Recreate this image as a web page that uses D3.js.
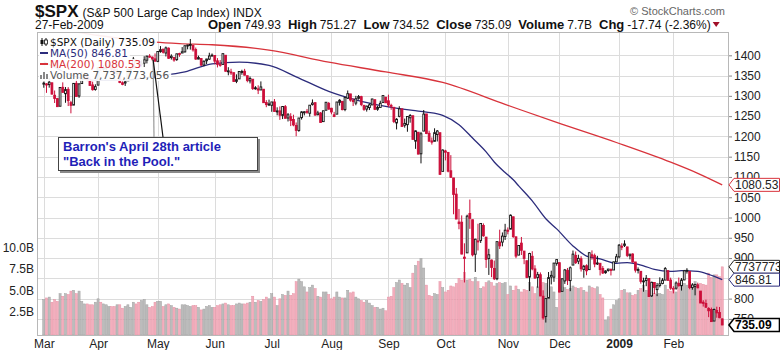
<!DOCTYPE html>
<html>
<head>
<meta charset="utf-8">
<script src="https://cdn.jsdelivr.net/npm/d3@7/dist/d3.min.js"></script>
<style>
  html, body { margin: 0; padding: 0; background: #fff; }
  svg { display: block; font-family: "Liberation Sans", Arial, sans-serif; }
</style>
</head>
<body>
<svg id="chart" width="780" height="350"></svg>
<script>
// Daily bars of $SPX, one array per month: [day, open, high, low, close, volume (billions)]
const mar08 = [
  [3,1330.5,1335.1,1320.0,1331.34,3.9],[4,1329.6,1331.0,1307.4,1326.75,4.1],[5,1327.7,1344.2,1320.2,1333.70,4.2],
  [6,1332.2,1332.2,1303.4,1304.34,3.6],[7,1301.5,1313.2,1282.4,1293.37,3.9],[10,1293.2,1295.0,1272.7,1273.37,3.7],
  [11,1274.4,1320.7,1274.4,1320.65,4.6],[12,1321.1,1333.3,1307.9,1308.77,4.3],[13,1305.3,1321.7,1282.9,1315.48,4.6],
  [14,1316.1,1321.5,1274.9,1288.14,4.5],[17,1283.2,1287.7,1256.9,1276.60,4.9],[18,1277.2,1330.7,1277.2,1330.74,5.0],
  [19,1330.9,1341.5,1298.4,1298.42,4.6],[20,1299.7,1330.7,1295.2,1329.51,4.9],[24,1330.3,1359.7,1330.3,1349.88,3.7],
  [25,1349.1,1357.2,1341.2,1352.99,3.4],[26,1352.5,1352.5,1336.4,1341.13,3.4],[27,1340.3,1345.6,1325.7,1325.76,3.3],
  [28,1327.0,1334.9,1312.9,1315.22,3.3],[31,1315.9,1328.5,1312.8,1322.70,3.6]
];
const apr08 = [
  [1,1326.4,1370.2,1326.4,1370.18,4.0],[2,1369.9,1377.9,1361.6,1367.53,3.6],[3,1365.7,1375.7,1358.7,1369.31,3.4],
  [4,1369.9,1380.9,1362.8,1370.40,3.3],[7,1373.7,1386.7,1369.0,1372.54,3.1],[8,1370.2,1370.2,1360.6,1365.54,3.1],
  [9,1365.5,1368.4,1349.6,1354.49,3.1],[10,1355.0,1367.2,1350.1,1360.55,3.3],[11,1357.7,1357.7,1331.2,1332.83,3.3],
  [14,1332.2,1335.6,1326.2,1328.32,2.9],[15,1331.7,1337.7,1324.4,1334.43,3.1],[16,1337.0,1365.5,1337.0,1364.71,3.3],
  [17,1363.4,1368.6,1357.3,1365.56,3.0],[18,1369.0,1395.9,1369.0,1390.33,3.6],[21,1387.7,1390.2,1379.3,1388.17,3.4],
  [22,1386.4,1386.4,1369.8,1375.94,3.6],[23,1378.4,1387.8,1372.2,1379.93,3.8],[24,1380.5,1397.7,1371.1,1388.82,3.9],
  [25,1387.9,1399.1,1379.9,1397.84,3.3],[28,1397.8,1402.9,1394.4,1396.37,3.0],[29,1395.6,1397.0,1386.7,1390.94,3.1],
  [30,1391.2,1404.6,1384.3,1385.59,3.6]
];
const may08 = [
  [1,1385.1,1410.0,1383.1,1409.34,3.7],[2,1409.2,1422.7,1406.3,1413.90,3.7],[5,1415.3,1415.3,1404.4,1407.49,3.1],
  [6,1405.6,1421.6,1397.1,1418.26,3.3],[7,1417.5,1419.5,1391.2,1392.57,3.4],[8,1394.3,1402.4,1389.4,1397.68,3.2],
  [9,1394.9,1394.9,1384.1,1388.28,3.0],[12,1389.4,1404.1,1386.2,1403.58,2.9],[13,1404.4,1406.3,1396.3,1403.04,2.8],
  [14,1405.6,1420.2,1405.6,1408.66,3.3],[15,1408.4,1424.4,1406.9,1423.57,3.3],[16,1423.9,1425.8,1414.7,1425.35,3.2],
  [19,1425.3,1440.2,1414.0,1426.63,3.1],[20,1424.5,1424.5,1409.1,1413.40,3.2],[21,1414.1,1419.1,1388.8,1390.71,3.2],
  [22,1390.8,1399.1,1390.2,1394.35,3.0],[23,1392.2,1392.2,1373.7,1375.93,2.7],[27,1375.9,1387.4,1373.1,1385.35,2.8],
  [28,1386.5,1391.3,1378.2,1390.84,3.1],[29,1390.5,1406.3,1388.6,1398.26,3.2],[30,1398.4,1404.5,1398.1,1400.38,3.0]
];
const jun08 = [
  [2,1399.6,1399.6,1377.8,1385.67,3.0],[3,1386.4,1393.1,1370.1,1377.65,3.2],[4,1376.3,1388.2,1371.7,1377.20,3.3],
  [5,1377.5,1404.1,1377.5,1404.05,3.4],[6,1400.1,1400.1,1359.9,1360.68,3.5],[9,1360.8,1370.6,1350.7,1361.76,3.3],
  [10,1358.9,1366.8,1351.6,1358.44,3.2],[11,1357.1,1357.1,1335.5,1335.49,3.2],[12,1335.8,1353.0,1331.3,1339.87,3.4],
  [13,1341.8,1360.0,1341.8,1360.03,3.5],[16,1358.4,1364.3,1352.1,1360.14,3.4],[17,1360.7,1366.6,1350.5,1350.93,3.4],
  [18,1349.6,1349.6,1333.4,1337.81,3.5],[19,1336.9,1347.7,1330.6,1342.83,3.6],[20,1341.0,1341.0,1314.5,1317.93,4.3],
  [23,1319.8,1323.8,1315.3,1318.00,3.6],[24,1317.2,1326.0,1304.4,1314.29,3.8],[25,1314.5,1335.6,1314.5,1321.97,3.7],
  [26,1316.3,1316.3,1283.2,1283.15,3.9],[27,1283.6,1289.5,1272.0,1278.38,4.2],[30,1278.1,1290.7,1274.9,1280.00,4.0]
];
const jul08 = [
  [1,1276.7,1285.3,1260.7,1284.91,4.6],[2,1285.0,1292.2,1261.5,1261.52,4.2],[3,1262.9,1271.7,1252.0,1262.90,3.2],
  [7,1262.9,1273.9,1240.7,1252.31,4.0],[8,1251.8,1274.2,1242.8,1273.70,4.5],[9,1273.4,1277.4,1244.6,1244.69,4.4],
  [10,1245.3,1257.7,1236.8,1253.39,4.9],[11,1248.7,1257.2,1225.4,1239.49,4.4],[14,1241.6,1253.5,1225.0,1228.30,4.6],
  [15,1226.8,1234.4,1200.4,1214.91,6.0],[16,1214.7,1245.5,1211.4,1245.36,6.3],[17,1246.3,1262.3,1241.5,1260.32,6.0],
  [18,1258.2,1262.2,1251.8,1260.68,5.4],[21,1261.8,1267.7,1255.7,1260.00,4.8],[22,1257.1,1277.4,1248.8,1277.00,5.3],
  [23,1278.9,1291.2,1276.1,1282.19,5.6],[24,1283.2,1283.2,1251.5,1252.54,5.2],[25,1253.5,1263.2,1251.8,1257.76,4.3],
  [28,1257.8,1260.1,1234.4,1234.37,4.2],[29,1236.4,1263.2,1236.4,1263.20,4.8],[30,1264.5,1284.3,1264.5,1284.26,4.8],
  [31,1281.4,1284.9,1265.7,1267.38,4.5]
];
const aug08 = [
  [1,1269.4,1270.5,1254.5,1260.31,4.0],[4,1253.3,1260.5,1247.5,1249.01,4.2],[5,1254.9,1284.9,1254.7,1284.88,4.8],
  [6,1283.9,1291.7,1276.0,1289.19,4.2],[7,1286.5,1286.5,1264.3,1266.07,4.1],[8,1266.3,1297.9,1262.1,1296.32,4.1],
  [11,1294.4,1313.2,1292.2,1305.32,5.0],[12,1304.8,1304.8,1285.6,1289.59,4.7],[13,1288.6,1294.0,1274.9,1285.83,4.8],
  [14,1282.1,1300.1,1276.8,1292.93,4.2],[15,1293.9,1302.1,1290.7,1298.20,4.0],[18,1298.1,1300.2,1274.5,1278.60,3.8],
  [19,1276.7,1276.7,1263.1,1266.69,3.6],[20,1267.3,1276.0,1261.2,1274.54,3.8],[21,1271.1,1281.5,1265.0,1277.72,3.5],
  [22,1277.6,1293.1,1277.6,1292.20,3.2],[25,1290.5,1290.5,1264.9,1266.84,3.0],[26,1267.0,1275.6,1263.2,1271.51,3.0],
  [27,1271.3,1288.0,1271.3,1281.66,2.8],[28,1283.8,1300.7,1283.8,1300.68,2.9],[29,1296.5,1297.6,1282.7,1282.83,2.6]
];
const sep08 = [
  [2,1287.8,1303.0,1272.2,1277.58,4.2],[3,1276.6,1280.6,1265.6,1274.98,4.3],[4,1271.8,1271.8,1232.8,1236.83,5.3],
  [5,1233.2,1244.9,1217.2,1242.31,5.9],[8,1249.5,1274.4,1247.1,1267.79,6.2],[9,1267.9,1268.7,1224.5,1224.51,5.8],
  [10,1227.5,1243.9,1221.6,1232.04,5.6],[11,1229.0,1250.0,1211.5,1249.05,5.8],[12,1245.9,1255.1,1233.8,1251.70,5.3],
  [15,1250.9,1250.9,1192.7,1192.70,7.0],[16,1188.3,1214.8,1169.3,1213.60,7.9],[17,1210.3,1210.3,1155.9,1156.39,8.4],
  [18,1157.1,1211.1,1133.5,1206.51,8.7],[19,1213.1,1265.1,1213.1,1255.08,7.6],[22,1255.4,1255.4,1205.6,1207.09,5.6],
  [23,1207.6,1214.0,1187.8,1188.22,4.4],[24,1188.8,1197.4,1179.8,1185.87,4.3],[25,1187.9,1220.0,1187.9,1209.18,4.6],
  [26,1204.5,1215.8,1187.5,1213.27,4.5],[29,1209.1,1209.1,1106.4,1106.42,6.0],[30,1113.8,1168.0,1113.8,1166.36,5.3]
];
const oct08 = [
  [1,1164.2,1167.0,1140.8,1161.06,4.8],[2,1160.6,1160.6,1111.4,1114.28,5.0],[3,1115.2,1153.8,1098.1,1099.23,5.5],
  [6,1097.6,1097.6,1008.0,1056.89,5.4],[7,1057.6,1072.9,996.2,996.23,5.8],[8,988.9,1021.1,971.0,984.94,6.4],
  [9,988.4,1005.3,909.2,909.92,6.2],[10,902.3,936.4,839.8,899.22,7.1],[13,912.8,1006.9,912.8,1003.35,6.2],
  [14,1010.0,1044.3,972.1,998.01,6.3],[15,994.6,994.6,904.0,907.84,6.0],[16,909.5,947.7,865.8,946.43,6.5],
  [17,942.3,984.6,918.7,940.55,6.0],[20,943.5,985.4,937.3,985.40,5.2],[21,980.4,985.4,952.5,955.05,5.4],
  [22,951.7,951.7,875.8,896.78,5.9],[23,899.1,922.8,858.4,908.11,6.1],[24,895.2,896.3,852.9,876.77,5.9],
  [27,874.3,893.8,845.8,848.92,5.5],[28,848.9,940.5,845.3,940.51,5.8],[29,939.5,970.0,922.3,930.09,5.9],
  [30,939.4,963.2,928.9,954.09,5.8],[31,953.1,984.4,944.6,968.75,5.9]
];
const nov08 = [
  [3,968.7,975.5,958.6,966.30,4.5],[4,971.3,1007.5,971.3,1005.75,5.5],[5,1001.8,1001.8,949.9,952.77,5.0],
  [6,952.4,952.4,899.7,904.88,5.5],[7,907.4,931.5,906.9,930.99,5.1],[10,936.8,952.0,907.5,919.21,4.8],
  [11,917.2,917.2,884.9,898.95,5.1],[12,893.4,893.4,850.5,852.30,5.0],[13,853.1,913.0,818.7,911.29,5.9],
  [14,904.4,916.9,869.9,873.29,5.4],[17,873.2,882.3,849.0,850.75,4.6],[18,852.3,865.9,826.8,859.12,5.4],
  [19,859.0,864.6,806.2,806.58,5.6],[20,805.9,820.5,747.8,752.44,5.9],[21,755.8,801.2,741.0,800.03,5.8],
  [24,801.2,865.6,801.2,851.81,5.6],[25,853.4,868.9,835.0,857.39,5.4],[26,852.9,887.7,841.4,887.68,4.8],
  [28,886.9,896.3,881.2,896.24,3.0]
];
const dec08 = [
  [1,888.6,888.6,815.7,816.21,5.0],[2,817.9,850.5,817.9,848.81,5.4],[3,843.6,873.1,836.3,870.74,5.3],
  [4,869.8,875.6,833.6,845.22,5.1],[5,844.4,879.4,818.4,876.07,5.2],[8,882.7,918.6,882.7,909.70,5.5],
  [9,906.5,916.3,885.4,888.67,5.3],[10,892.2,908.3,885.0,899.24,5.2],[11,898.4,904.6,866.8,873.59,5.3],
  [12,871.8,883.2,851.4,879.73,5.0],[15,881.1,884.6,857.7,868.57,4.8],[16,871.5,914.7,871.5,913.18,5.5],
  [17,908.2,918.9,895.9,904.42,5.3],[18,906.0,911.0,877.4,885.28,5.2],[19,887.0,905.5,883.0,887.88,5.4],
  [22,887.2,887.4,857.1,871.63,4.5],[23,874.3,880.4,860.7,863.16,4.1],[24,863.9,869.8,861.4,868.15,1.5],
  [26,869.5,873.7,866.5,872.80,1.9],[29,872.4,873.7,857.1,869.42,2.8],[30,870.6,891.1,870.6,890.64,3.3],
  [31,890.6,910.3,889.4,903.25,3.8]
];
const jan09 = [
  [2,903.0,934.7,899.4,931.80,4.0],[5,929.2,936.6,919.5,927.45,5.0],[6,931.2,943.9,927.3,934.70,5.1],
  [7,927.5,927.5,902.4,906.65,4.7],[8,905.7,910.0,896.8,909.73,4.7],[9,909.9,911.9,888.3,890.35,4.4],
  [12,890.4,890.4,864.3,870.26,4.5],[13,869.8,877.0,862.0,871.79,5.0],[14,867.3,867.3,836.9,842.62,5.2],
  [15,842.0,851.6,817.0,843.74,5.6],[16,844.5,858.1,830.7,850.12,5.0],[20,849.6,849.6,804.5,805.22,4.6],
  [21,806.8,841.7,804.3,840.24,4.4],[22,839.7,839.7,811.3,827.50,4.6],[23,822.2,838.6,806.1,831.95,4.5],
  [26,832.5,852.5,827.7,836.57,4.6],[27,837.3,850.5,835.4,845.71,4.5],[28,845.7,877.9,845.7,874.09,5.6],
  [29,868.9,868.9,844.2,845.14,5.1],[30,845.7,851.7,821.7,825.88,4.9]
];
const feb09 = [
  [2,823.1,830.8,812.9,825.44,5.0],[3,825.7,842.6,822.0,838.51,4.8],[4,837.8,851.9,829.2,832.23,5.8],
  [5,831.8,850.6,819.9,845.85,5.9],[6,846.1,870.8,845.4,868.60,5.8],[9,868.2,875.0,861.7,869.89,5.6],
  [10,866.9,868.1,823.0,827.16,6.0],[11,827.4,838.2,822.0,833.74,5.4],[12,829.9,835.5,808.1,835.19,6.0],
  [13,834.0,839.4,825.2,826.84,5.3],[17,818.6,818.6,789.2,789.17,5.8],[18,791.1,796.2,780.4,788.42,5.7],
  [19,787.9,797.6,777.0,778.94,5.6],[20,775.9,778.7,754.3,770.05,7.0],[23,773.3,777.9,742.4,743.33,6.5],
  [24,744.7,775.5,744.7,773.14,6.8],[25,770.6,780.1,752.9,764.90,6.8],[26,765.8,779.4,751.8,752.83,6.6],
  [27,749.93,751.27,734.52,735.09,7.737773056]
];
const monthKeys = ["2008-03","2008-04","2008-05","2008-06","2008-07","2008-08","2008-09","2008-10","2008-11","2008-12","2009-01","2009-02"];
const monthRows = [mar08, apr08, may08, jun08, jul08, aug08, sep08, oct08, nov08, dec08, jan09, feb09];
const tickLabels = ["Mar","Apr","May","Jun","Jul","Aug","Sep","Oct","Nov","Dec","2009","Feb"];
const prevClose = 1330.63; // close of 29-Feb-2008

// Moving averages: [date, value]
const ma50 = [
  ["2008-03-03",1384],["2008-03-07",1371],["2008-03-14",1354],["2008-03-31",1338],["2008-04-15",1339],
  ["2008-04-30",1348],["2008-05-15",1359],["2008-05-30",1379],["2008-06-13",1383],["2008-06-30",1375],
  ["2008-07-15",1347],["2008-07-31",1311],["2008-08-14",1290],["2008-08-29",1274],["2008-09-15",1264],
  ["2008-09-22",1260],["2008-09-30",1252],["2008-10-08",1229],["2008-10-15",1196],["2008-10-22",1162],
  ["2008-10-27",1137],["2008-10-31",1111],["2008-11-05",1093],["2008-11-07",1078],["2008-11-14",1041],
  ["2008-11-21",997],["2008-11-28",972],["2008-12-08",930],["2008-12-15",905],["2008-12-22",898],
  ["2008-12-31",887],["2009-01-07",889],["2009-01-15",881],["2009-01-22",872],["2009-01-30",867],
  ["2009-02-05",869],["2009-02-13",867],["2009-02-20",860],["2009-02-27",846.81]
];
const ma200 = [
  ["2008-03-03",1470],["2008-03-31",1450],["2008-04-30",1432.5],["2008-05-13",1429],["2008-05-30",1426],
  ["2008-06-30",1413],["2008-07-31",1383],["2008-08-29",1359],["2008-09-30",1333],["2008-10-31",1279],
  ["2008-11-28",1234.5],["2008-12-31",1185],["2009-01-30",1136.5],["2009-02-13",1109],["2009-02-27",1080.53]
];

const priceTicks = [750,800,850,900,950,1000,1050,1100,1150,1200,1250,1300,1350,1400];
const volumeTicks = [2.5,5,7.5,10];

// ---------------------------------------------------------------------------
const plot = { left: 37, right: 729, top: 32, bottom: 335 };
const RED = "#cc0f3a", BLACK = "#111", NAVY = "#2c2c7c", MA_RED = "#d8333b";

const bars = [];
monthRows.forEach((rows, m) => rows.forEach(r => bars.push({
  date: monthKeys[m] + "-" + String(r[0]).padStart(2, "0"),
  open: r[1], high: r[2], low: r[3], close: r[4], volume: r[5]
})));
bars.forEach((b, i) => {
  const pc = i ? bars[i - 1].close : prevClose;
  b.down = b.close < pc;
  b.hollow = b.close >= b.open;
});
const last = bars[bars.length - 1];
const lastPrev = bars[bars.length - 2].close;

const x = d3.scalePoint().domain(bars.map(d => d.date)).range([plot.left, plot.right]).padding(2.5);
const step = x.step();
const y = d3.scaleLinear().domain([750, 1400]).range([318.9, 55.3]);
const yVol = d3.scaleLinear().domain([0, 10]).range([333, 247.5]);

const svg = d3.select("#chart");
svg.append("defs").append("clipPath").attr("id", "plotClip")
  .append("rect").attr("x", plot.left).attr("y", plot.top)
  .attr("width", plot.right - plot.left).attr("height", plot.bottom - plot.top);

// grid
const monthStarts = monthKeys.map(k => bars.find(b => b.date.startsWith(k)).date);
const grid = svg.append("g").attr("shape-rendering", "crispEdges").attr("stroke", "#dcdcdc");
grid.selectAll("line.h").data(priceTicks).join("line").attr("class", "h")
  .attr("x1", plot.left).attr("x2", plot.right)
  .attr("y1", d => Math.round(y(d)) + 0.5).attr("y2", d => Math.round(y(d)) + 0.5);
grid.selectAll("line.v").data(monthStarts).join("line").attr("class", "v")
  .attr("x1", d => Math.round(x(d)) + 0.5).attr("x2", d => Math.round(x(d)) + 0.5)
  .attr("y1", plot.top).attr("y2", plot.bottom);

// volume
const body = svg.append("g").attr("clip-path", "url(#plotClip)");
body.append("g").selectAll("rect").data(bars).join("rect")
  .attr("x", d => x(d.date) - step / 2 + 0.3)
  .attr("width", step - 0.6)
  .attr("y", d => yVol(d.volume))
  .attr("height", d => plot.bottom - yVol(d.volume))
  .attr("fill", d => d.down ? "#f3a6b6" : "#b5b5b5")
  .attr("stroke", d => d.down ? "#e38a9e" : "#9a9a9a")
  .attr("stroke-width", 0.5)
  .attr("opacity", 0.9);

// moving averages
const maLine = d3.line().x(d => x(d[0])).y(d => y(d[1])).curve(d3.curveMonotoneX);
body.append("path").datum(ma200).attr("d", maLine).attr("fill", "none")
  .attr("stroke", MA_RED).attr("stroke-width", 1.3);
body.append("path").datum(ma50).attr("d", maLine).attr("fill", "none")
  .attr("stroke", NAVY).attr("stroke-width", 1.3);

// candles
const bw = 1.8;
const candles = body.append("g").selectAll("g").data(bars).join("g");
candles.append("line")
  .attr("x1", d => x(d.date)).attr("x2", d => x(d.date))
  .attr("y1", d => y(d.high)).attr("y2", d => y(d.low))
  .attr("stroke", d => d.down ? RED : BLACK).attr("stroke-width", 1);
candles.append("rect")
  .attr("x", d => x(d.date) - bw / 2).attr("width", bw)
  .attr("y", d => y(Math.max(d.open, d.close)))
  .attr("height", d => Math.max(1, Math.abs(y(d.open) - y(d.close))))
  .attr("fill", d => d.hollow ? "#fff" : (d.down ? RED : BLACK))
  .attr("stroke", d => d.down ? RED : BLACK).attr("stroke-width", 0.9);

// frame
svg.append("rect").attr("x", plot.left + 0.5).attr("y", plot.top + 0.5)
  .attr("width", plot.right - plot.left - 1).attr("height", plot.bottom - plot.top)
  .attr("fill", "none").attr("stroke", "#b8b8b8").attr("shape-rendering", "crispEdges");

// axes
const styleAxis = g => {
  g.select(".domain").remove();
  g.selectAll(".tick line").attr("stroke", "#888");
  g.selectAll("text").attr("font-family", "Liberation Sans, Arial, sans-serif").attr("font-size", 12).attr("fill", "#222");
};
svg.append("g").attr("transform", `translate(${plot.right},0)`)
  .call(d3.axisRight(y).tickValues(priceTicks).tickSize(3).tickPadding(2).tickFormat(d3.format("d")))
  .call(styleAxis);
svg.append("g").attr("transform", `translate(${plot.left},0)`)
  .call(d3.axisLeft(yVol).tickValues(volumeTicks).tickSize(0).tickPadding(3).tickFormat(d => d3.format(".1f")(d) + "B"))
  .call(styleAxis);
const xAxis = svg.append("g").attr("transform", `translate(0,${plot.bottom})`)
  .call(d3.axisBottom(x).tickValues(monthStarts).tickSize(0).tickPadding(4).tickFormat((d, i) => tickLabels[i]))
  .call(styleAxis);
xAxis.selectAll("text").filter((d, i) => tickLabels[i] === "2009").attr("font-weight", "bold");

// legend
const legend = svg.append("g").attr("font-family", "DejaVu Sans, Verdana, sans-serif").attr("font-size", 10.5);
const fmtVol = d3.format(",");
const legendRows = [
  { text: `$SPX (Daily) ${last.close.toFixed(2)}`, color: "#111", icon: "candle", base: 46 },
  { text: `MA(50) ${ma50[ma50.length - 1][1].toFixed(2)}`, color: NAVY, icon: "dash", iconColor: NAVY, base: 57 },
  { text: `MA(200) ${ma200[ma200.length - 1][1].toFixed(2)}`, color: MA_RED, icon: "dash", iconColor: MA_RED, base: 68 },
  { text: `Volume ${fmtVol(Math.round(last.volume * 1e9))}`, color: "#555", icon: "bars", base: 79 }
];
legendRows.forEach((r, i) => {
  const g = legend.append("g");
  const bg = g.append("rect").attr("fill", "#fff").attr("opacity", 0.92);
  const t = g.append("text").attr("x", 50).attr("y", r.base).attr("fill", r.color).text(r.text);
  const w = t.node().getComputedTextLength();
  const top = i === 0 ? r.base - 13 : r.base - 9;
  bg.attr("x", 39).attr("y", top).attr("width", w + 13).attr("height", r.base + 2 - top);
  if (r.icon === "dash") {
    g.append("line").attr("x1", 40).attr("x2", 48).attr("y1", r.base - 4).attr("y2", r.base - 4)
      .attr("stroke", r.iconColor).attr("stroke-width", 2);
  } else if (r.icon === "candle") {
    g.append("line").attr("x1", 42).attr("x2", 42).attr("y1", r.base - 8).attr("y2", r.base).attr("stroke", "#111");
    g.append("rect").attr("x", 40.5).attr("y", r.base - 6).attr("width", 3).attr("height", 4).attr("fill", "#111");
    g.append("line").attr("x1", 46).attr("x2", 46).attr("y1", r.base - 8).attr("y2", r.base).attr("stroke", "#111");
    g.append("rect").attr("x", 44.5).attr("y", r.base - 6).attr("width", 3).attr("height", 4).attr("fill", "#fff").attr("stroke", "#111").attr("stroke-width", 0.8);
  } else {
    [[40, 4], [43, 7], [46, 5]].forEach(([bx, bh]) =>
      g.append("rect").attr("x", bx).attr("y", r.base - bh).attr("width", 2).attr("height", bh).attr("fill", "#888"));
  }
});

// value tags on the right edge
const tags = [
  { v: y(ma200[ma200.length - 1][1]), text: ma200[ma200.length - 1][1].toFixed(2), color: MA_RED, bold: false },
  { v: yVol(last.volume), text: String(Math.round(last.volume * 1e9)), color: "#222", bold: false },
  { v: y(ma50[ma50.length - 1][1]), text: ma50[ma50.length - 1][1].toFixed(2), color: NAVY, bold: false },
  { v: y(last.close), text: last.close.toFixed(2), color: "#000", bold: true }
];
const tagG = svg.append("g");
tags.forEach(t => {
  const c = t.v, h = 6.5;
  tagG.append("path")
    .attr("d", `M${plot.right},${c} L${plot.right + 5},${c - h} L779.5,${c - h} L779.5,${c + h} L${plot.right + 5},${c + h} Z`)
    .attr("fill", "#fff").attr("stroke", t.color).attr("stroke-width", t.bold ? 1.6 : 1);
  tagG.append("text").attr("x", plot.right + 6).attr("y", c + 4.2)
    .attr("font-size", 12).attr("font-weight", t.bold ? "bold" : "normal")
    .attr("fill", t.bold ? "#000" : "#222").text(t.text);
});

// callout
const anchorBar = bars.find(b => b.date === "2008-04-28");
const ax = x(anchorBar.date) + 3.5, ay = y(anchorBar.low) + 2;
const call = svg.append("g");
call.append("line").attr("x1", ax).attr("y1", ay).attr("x2", 154).attr("y2", 137).attr("stroke", "#999").attr("stroke-width", 1.2);
call.append("line").attr("x1", ax).attr("y1", ay).attr("x2", 163).attr("y2", 137).attr("stroke", "#111").attr("stroke-width", 1.2);
call.append("rect").attr("x", 60).attr("y", 139).attr("width", 200).attr("height", 34).attr("fill", "#8a8a8a");
call.append("rect").attr("x", 58.5).attr("y", 137.5).attr("width", 199).attr("height", 33).attr("fill", "#fff").attr("stroke", "#444");
call.append("text").attr("x", 63).attr("y", 151).attr("font-size", 13).attr("font-weight", "bold").attr("fill", "#1f1fb8")
  .text("Barron's April 28th article");
call.append("text").attr("x", 63).attr("y", 166).attr("font-size", 13).attr("font-weight", "bold").attr("fill", "#1f1fb8")
  .text("\"Back in the Pool.\"");

// header
const head = svg.append("g").attr("fill", "#111");
const t1 = head.append("text").attr("x", 35).attr("y", 17).attr("font-size", 17).attr("font-weight", "bold").text("$SPX");
head.append("text").attr("x", 35 + t1.node().getComputedTextLength() + 4).attr("y", 17).attr("font-size", 12)
  .text("(S&P 500 Large Cap Index) INDX");
head.append("text").attr("x", 35).attr("y", 29).attr("font-size", 12)
  .text(d3.timeFormat("%d-%b-%Y")(d3.timeParse("%Y-%m-%d")(last.date)));
head.append("text").attr("x", 725).attr("y", 15).attr("text-anchor", "end").attr("font-size", 11).attr("fill", "#666")
  .text("© StockCharts.com");

const chg = last.close - lastPrev;
const headerItems = [
  ["Open", last.open.toFixed(2)], ["High", last.high.toFixed(2)], ["Low", last.low.toFixed(2)],
  ["Close", last.close.toFixed(2)], ["Volume", last.volume.toFixed(1) + "B"],
  ["Chg", `${chg.toFixed(2)} (${(chg / lastPrev * 100).toFixed(2)}%)`]
];
let hx = 208;
headerItems.forEach(([lab, val]) => {
  const a = head.append("text").attr("x", hx).attr("y", 29).attr("font-size", 13).attr("font-weight", "bold").text(lab);
  hx += a.node().getComputedTextLength() + 3;
  const b = head.append("text").attr("x", hx).attr("y", 29).attr("font-size", 12).text(val);
  hx += b.node().getComputedTextLength() + 7;
});
head.append("path").attr("d", `M${hx - 5},22 L${hx + 2},22 L${hx - 1.5},27 Z`).attr("fill", "#a0102a");
</script>
</body>
</html>
